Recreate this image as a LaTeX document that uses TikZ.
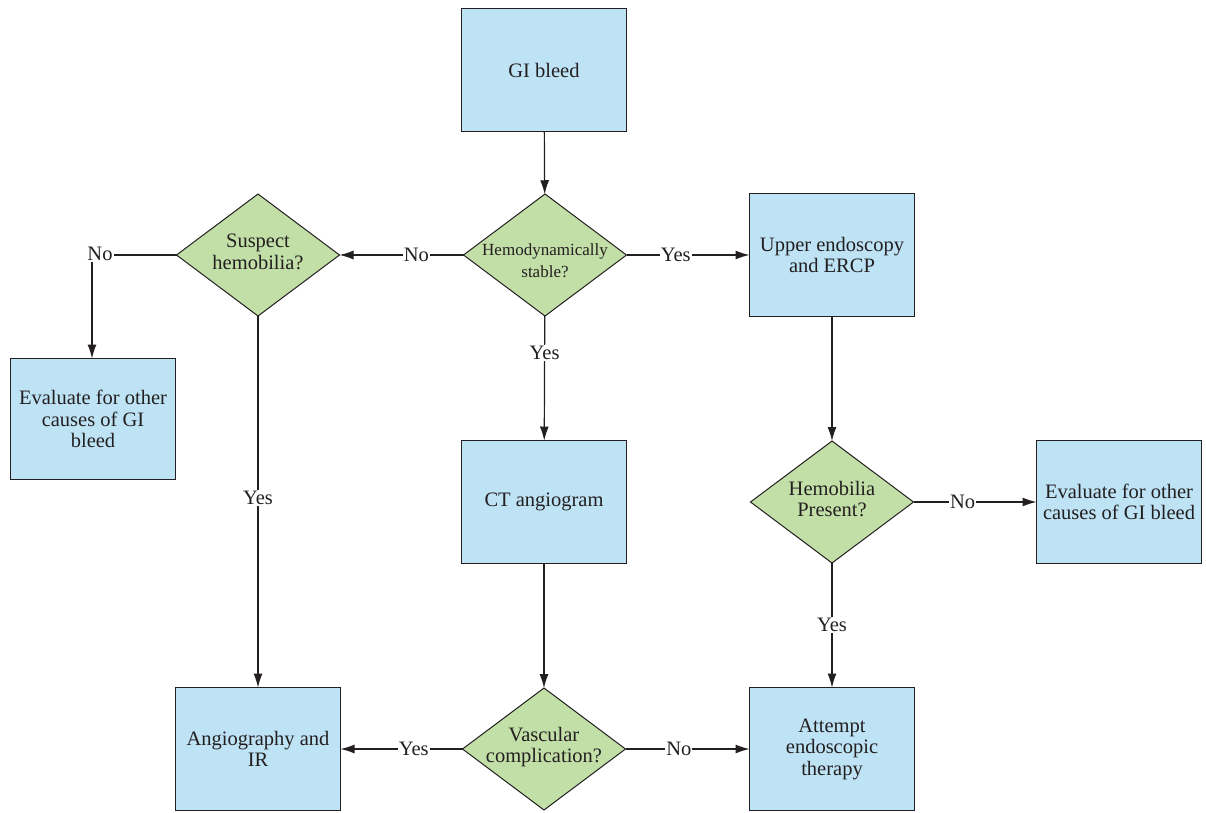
\documentclass[tikz,border=0pt]{standalone}
\usepackage{fontspec}
\setmainfont{Liberation Serif}
\usetikzlibrary{shapes.geometric,arrows.meta}
\definecolor{boxblue}{HTML}{BEE3F5}
\definecolor{diagreen}{HTML}{C3DFA8}
\definecolor{ink}{HTML}{231F20}
\begin{document}
\begin{tikzpicture}[x=1pt,y=-1pt,
  procbox/.style={draw=ink,fill=boxblue,line width=1.1pt,minimum width=165pt,minimum height=123pt,
    align=center,inner sep=2pt,outer sep=0pt,font=\fontsize{20.5}{21.5}\selectfont,text=ink},
  decision/.style={diamond,draw=ink,fill=diagreen,line width=1pt,minimum width=163pt,minimum height=122pt,
    inner sep=0pt,outer sep=0pt},
  dtext/.style={align=center,font=\fontsize{20.5}{21.5}\selectfont,text=ink,inner sep=0pt},
  flow/.style={draw=ink,line width=1.2pt,-{Latex[length=14pt,width=9pt]}},
  lbl/.style={fill=white,inner sep=1pt,font=\fontsize{20.5}{21.5}\selectfont,text=ink}]
\useasboundingbox (0,0) rectangle (1206,812);
\node[procbox] (gi) at (544,70) {GI bleed};
\node[decision,label={[dtext,font=\fontsize{17}{22}\selectfont,yshift=-6pt]center:Hemodynamically\\stable?}] (hemo) at (545,255) {};
\node[decision,label={[dtext,yshift=3pt]center:Suspect\\hemobilia?}] (sus) at (258,255) {};
\node[procbox] (upper) at (832,255) {Upper endoscopy\\and ERCP};
\node[procbox,minimum height=121pt] (ev1) at (93,419) {Evaluate for other\\causes of GI\\bleed};
\node[procbox] (ct) at (544,502) {CT angiogram};
\node[decision,label={[dtext,yshift=3pt]center:Hemobilia\\Present?}] (hp) at (832,502) {};
\node[procbox] (ev2) at (1119,502) {Evaluate for other\\causes of GI bleed};
\node[decision,label={[dtext,yshift=2pt]center:Vascular\\complication?}] (vasc) at (544,749) {};
\node[procbox] (angio) at (258,749) {Angiography and\\IR};
\node[procbox] (att) at (832,749) {Attempt\\endoscopic\\therapy};
\coordinate (corner) at (92,255);

\draw[flow] (gi) -- (hemo);
\draw[flow] (hemo) -- node[lbl,pos=0.38]{No} (sus);
\draw[flow] (hemo) -- node[lbl,pos=0.4]{Yes} (upper);
\draw[flow] (hemo) -- node[lbl,pos=0.3]{Yes} (ct);
\draw[flow] (sus.west) -- (corner) -- (corner |- ev1.north);
\node[lbl] (nolbl) at (100,254) {No};
\draw[flow] (sus) -- node[lbl,pos=0.49]{Yes} (angio);
\draw[flow] (upper) -- (hp);
\draw[flow] (hp) -- node[lbl,pos=0.4]{No} (ev2);
\draw[flow] (hp) -- node[lbl,pos=0.5]{Yes} (att);
\draw[flow] (ct) -- (vasc);
\draw[flow] (vasc) -- node[lbl,pos=0.4]{Yes} (angio);
\draw[flow] (vasc) -- node[lbl,pos=0.43]{No} (att);
\end{tikzpicture}
\end{document}
